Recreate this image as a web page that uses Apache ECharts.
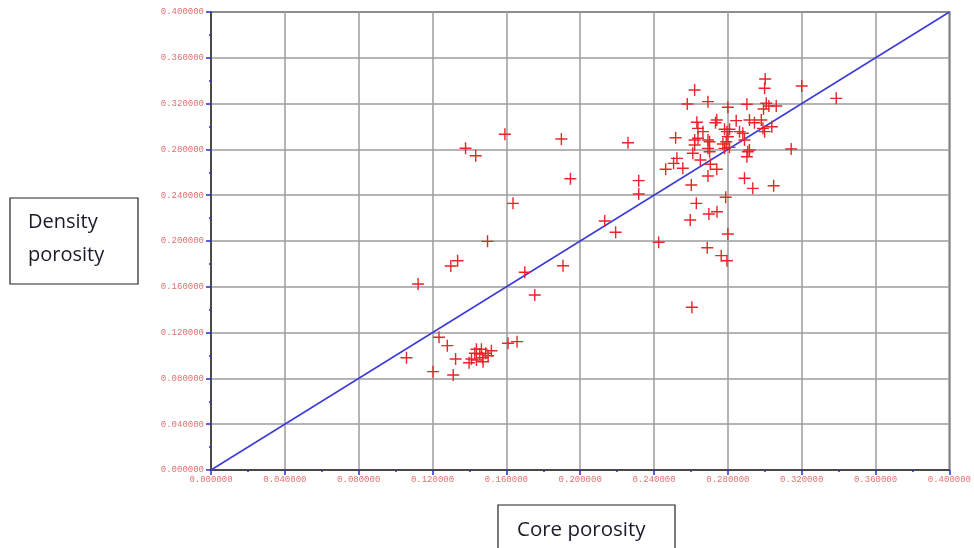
<!DOCTYPE html>
<html>
<head>
<meta charset="utf-8">
<script src="https://cdn.jsdelivr.net/npm/echarts@6/dist/echarts.min.js"></script>
<style>html,body{margin:0;padding:0;background:#fff;}#c{width:974px;height:548px;}</style>
</head>
<body>
<div id="c"></div>
<script>
// Core porosity (x) and density porosity (y)
var coreX = [
  0.1592,0.1898,0.2259,0.1379,0.1434,0.1947,0.2317,0.2317,0.1636,0.2133,0.2192,0.1498,
  0.1336,0.1299,0.1907,0.1700,0.1122,0.1754,0.1235,0.1280,0.1059,0.1325,0.1203,0.1312,
  0.1438,0.1465,0.1429,0.1456,0.1488,0.1519,0.1411,0.1438,0.1471,0.1501,0.1398,0.1474,
  0.1609,0.1658,
  0.2788,0.2629,0.2697,0.2741,0.2596,0.2800,0.2425,0.2688,0.2764,0.2795,0.2605,
  0.3002,0.2999,0.2620,0.3200,0.3387,0.2580,0.2692,0.2800,0.2903,0.3008,0.3022,0.3062,0.2993,
  0.2740,0.2733,0.2845,0.2917,0.2944,0.2981,0.2632,0.2638,0.2665,0.2782,0.2809,0.2795,
  0.2863,0.2881,0.2990,0.2999,0.3038,0.2517,0.2620,0.2638,0.2692,0.2701,0.2800,0.2791,
  0.2890,0.2620,0.2692,0.2701,0.2773,0.2782,0.2809,0.2908,0.2917,0.3143,0.2610,0.2524,
  0.2506,0.2463,0.2556,0.2903,0.2651,0.2705,0.2740,0.2692,0.2602,0.2890,0.2935,0.3048
];
var densityY = [
  0.2932,0.2891,0.2858,0.2810,0.2745,0.2544,0.2527,0.2410,0.2329,0.2175,0.2076,0.1997,
  0.1828,0.1782,0.1784,0.1727,0.1624,0.1528,0.1159,0.1086,0.0981,0.0970,0.0859,0.0830,
  0.1054,0.1054,0.1019,0.1013,0.1019,0.1042,0.0969,0.0961,0.0981,0.0998,0.0937,0.0946,
  0.1107,0.1121,
  0.2382,0.2329,0.2236,0.2256,0.2183,0.2061,0.1989,0.1941,0.1872,0.1828,0.1421,
  0.3415,0.3334,0.3319,0.3354,0.3246,0.3197,0.3217,0.3168,0.3194,0.3203,0.3179,0.3179,0.3153,
  0.3057,0.3033,0.3051,0.3057,0.3033,0.3057,0.3037,0.2984,0.2955,0.2976,0.2976,0.2955,
  0.2955,0.2941,0.2984,0.2955,0.2998,0.2902,0.2882,0.2897,0.2882,0.2867,0.2911,0.2867,
  0.2882,0.2838,0.2809,0.2780,0.2847,0.2809,0.2818,0.2780,0.2795,0.2803,0.2766,0.2722,
  0.2678,0.2626,0.2635,0.2736,0.2707,0.2670,0.2626,0.2568,0.2489,0.2548,0.2460,0.2483
];
// 1:1 reference line
var lineX = [0, 0.4];
var lineY = [0, 0.4];
var axisMin = 0, axisMax = 0.4, axisStep = 0.04;
var yTitleLines = ['Density', 'porosity'];
var xTitle = 'Core porosity';

var pts = coreX.map(function(x, i){ return [x, densityY[i]]; });
var linePts = lineX.map(function(x, i){ return [x, lineY[i]]; });

var labelStyle = {color:'#e07070', fontSize:9, fontFamily:'Liberation Mono', formatter:function(v){return v.toFixed(6);}};
function axisCfg(isX){
  return {
    type:'value', min:axisMin, max:axisMax, interval:axisStep,
    axisLine:{show:true, onZero:false, lineStyle:{color:'#333', width:1.5}},
    axisTick:{show:true, length:5, lineStyle:{color:'#2a2ad0', width:1.5}},
    minorTick:{show:true, splitNumber:2, length:2, lineStyle:{color:'#2a2ad0', width:1.5}},
    splitLine:{show:true, lineStyle:{color:'#9c9c9c', width:1.5}},
    axisLabel:Object.assign({margin: isX ? 5 : 7}, labelStyle)
  };
}
var titleFont = '20px "Open Sans"';
var chart = echarts.init(document.getElementById('c'), null, {renderer:'canvas'});
chart.setOption({
  backgroundColor:'#fff',
  animation:false,
  grid:{left:211, right:24, top:12, bottom:78, show:true, borderColor:'#333', borderWidth:1.5, backgroundColor:'transparent'},
  xAxis:axisCfg(true),
  yAxis:axisCfg(false),
  graphic:[
    {type:'rect', shape:{x:10, y:198, width:128, height:86}, style:{fill:'#fff', stroke:'#222', lineWidth:1.2}},
    {type:'text', x:28, y:222, style:{text:yTitleLines[0], font:titleFont, fill:'#1a1a2a', verticalAlign:'middle', align:'left'}},
    {type:'text', x:28, y:255, style:{text:yTitleLines[1], font:titleFont, fill:'#1a1a2a', verticalAlign:'middle', align:'left'}},
    {type:'rect', shape:{x:498, y:505, width:177, height:60}, style:{fill:'#fff', stroke:'#222', lineWidth:1.2}},
    {type:'text', x:517, y:530, style:{text:xTitle, font:'20.5px "Open Sans"', fill:'#1a1a2a', verticalAlign:'middle', align:'left'}}
  ],
  series:[
    {type:'line', data:linePts, symbol:'none', lineStyle:{color:'#3b3bd6', width:1.5}, z:3},
    {type:'scatter', data:pts, symbol:'path://M5.3,0H6.7V5.3H12V6.7H6.7V12H5.3V6.7H0V5.3H5.3Z',
     symbolSize:12, itemStyle:{color:'#e8252a', opacity:1}, z:4}
  ]
});
</script>
</body>
</html>
